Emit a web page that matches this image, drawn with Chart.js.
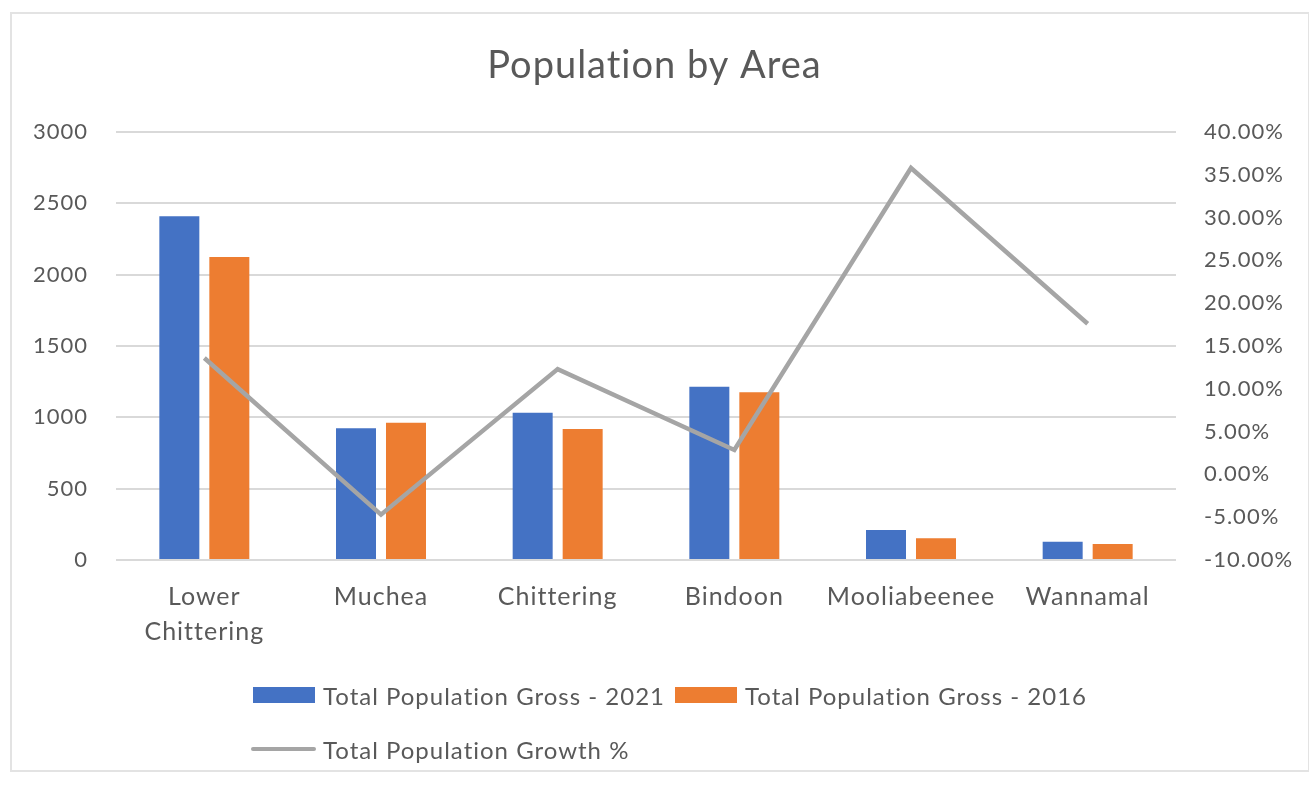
<!DOCTYPE html>
<html>
<head>
<meta charset="utf-8">
<script src="https://cdn.jsdelivr.net/npm/chart.js@4"></script>
<style>
  html, body { margin: 0; padding: 0; background: #fff; }
  #wrap { position: relative; width: 1309px; height: 787px; overflow: hidden; }
  #frame { position: absolute; left: 10px; top: 12px; width: 1300px; height: 760px; border: 2px solid #e3e3e3; box-sizing: border-box; }
  canvas { position: absolute; left: 0; top: 0; }
  .leg { position: absolute; font-family: Lato, sans-serif; font-size: 24px; color: #595959; white-space: nowrap; display: flex; align-items: center; letter-spacing: 1px; }
  .sw { display: inline-block; width: 62px; height: 16px; margin-right: 8px; }
  .ln { display: inline-block; width: 65px; height: 4px; margin-right: 7px; border-radius: 2px; }
</style>
</head>
<body>
<div id="wrap">
  <div id="frame"></div>
  <canvas id="c" width="1309" height="787"></canvas>
  <div id="legend"></div>
</div>
<script>
const categories = [["Lower", "Chittering"], "Muchea", "Chittering", "Bindoon", "Mooliabeenee", "Wannamal"];
const pop2021 = [2410, 923, 1032, 1215, 210, 128];
const pop2016 = [2124, 962, 918, 1175, 152, 112];
const growthPct = [13.6, -4.7, 12.3, 2.85, 35.8, 17.6];
const seriesNames = ["Total Population Gross - 2021", "Total Population Gross - 2016", "Total Population Growth %"];
const colors = ["#4472c4", "#ed7d31", "#a5a5a5"];
const leftTicks = [0, 500, 1000, 1500, 2000, 2500, 3000];
const rightTicks = [-10, -5, 0, 5, 10, 15, 20, 25, 30, 35, 40];

const FONT = "Lato, sans-serif";
const TXT = "#595959";

const spacingPlugin = {
  id: 'spacing',
  beforeUpdate(chart) { chart.ctx.letterSpacing = '1px'; },
  beforeDraw(chart) { chart.ctx.letterSpacing = '1px'; }
};

new Chart(document.getElementById('c'), {
  type: 'bar',
  plugins: [spacingPlugin],
  data: {
    labels: categories,
    datasets: [
      { type: 'line', label: seriesNames[2], data: growthPct, yAxisID: 'y2', borderColor: colors[2], backgroundColor: colors[2], borderWidth: 4.5, pointRadius: 0, tension: 0, order: 0 },
      { label: seriesNames[0], data: pop2021, backgroundColor: colors[0], yAxisID: 'y', categoryPercentage: 0.566, barPercentage: 0.8, order: 1 },
      { label: seriesNames[1], data: pop2016, backgroundColor: colors[1], yAxisID: 'y', categoryPercentage: 0.566, barPercentage: 0.8, order: 1 }
    ]
  },
  options: {
    responsive: false,
    animation: false,
    layout: { padding: { left: 0, right: 0, top: 0, bottom: 0 } },
    plugins: {
      legend: { display: false },
      tooltip: { enabled: false },
      title: {
        display: true,
        text: "Population by Area",
        color: TXT,
        font: { family: FONT, size: 38, weight: 'normal', lineHeight: 1.2 },
        padding: { top: 43, bottom: 43.4 }
      }
    },
    scales: {
      x: {
        grid: { display: false, drawTicks: false },
        border: { display: false },
        ticks: { color: TXT, font: { family: FONT, size: 25, lineHeight: 1.4 }, padding: 19.5, maxRotation: 0, autoSkip: false },
        afterFit: s => { s.height = 227; }
      },
      y: {
        position: 'left',
        min: 0, max: 3000,
        afterBuildTicks: s => { s.ticks = leftTicks.map(v => ({ value: v })); },
        grid: { color: "#d9d9d9", lineWidth: 2, drawTicks: false },
        border: { display: false },
        ticks: { color: TXT, font: { family: FONT, size: 22 }, padding: 28, callback: v => String(v) },
        afterFit: s => { s.width = 116; }
      },
      y2: {
        position: 'right',
        min: -10, max: 40,
        afterBuildTicks: s => { s.ticks = rightTicks.map(v => ({ value: v })); },
        grid: { display: false, drawTicks: false },
        border: { display: false },
        ticks: { color: TXT, font: { family: FONT, size: 22 }, padding: 28, callback: v => v.toFixed(2) + "%" },
        afterFit: s => { s.width = 133; }
      }
    }
  }
});

// HTML legend
const leg = document.getElementById('legend');
const row1 = document.createElement('div');
row1.className = 'leg';
row1.style.left = '253px';
row1.style.top = (695 - 14) + 'px';
row1.style.height = '28px';
[0, 1].forEach(i => {
  const sw = document.createElement('span');
  sw.className = 'sw';
  sw.style.background = colors[i];
  const t = document.createElement('span');
  t.textContent = seriesNames[i];
  t.style.marginRight = i === 0 ? '10px' : '0';
  row1.appendChild(sw); row1.appendChild(t);
});
leg.appendChild(row1);
const row2 = document.createElement('div');
row2.className = 'leg';
row2.style.left = '251px';
row2.style.top = (749 - 14) + 'px';
row2.style.height = '28px';
const ln = document.createElement('span');
ln.className = 'ln';
ln.style.background = colors[2];
const t2 = document.createElement('span');
t2.textContent = seriesNames[2];
row2.appendChild(ln); row2.appendChild(t2);
leg.appendChild(row2);
</script>
</body>
</html>
